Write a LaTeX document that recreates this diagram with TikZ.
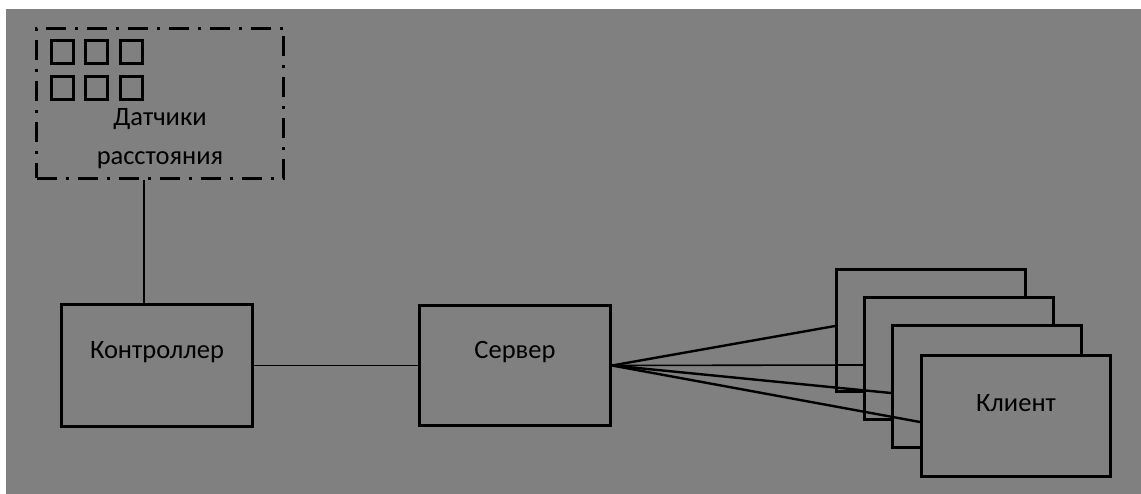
\documentclass[tikz,border=0pt]{standalone}
\usepackage{fontspec}
\setmainfont{Carlito}
\usetikzlibrary{calc}
\definecolor{panel}{RGB}{128,128,128}
\tikzset{
  box/.style={draw=black, line width=3pt, fill=panel, rectangle, inner sep=0pt,
              minimum width=#1},
  box/.default=191pt,
  cell/.style={draw=black, line width=3pt, rectangle, inner sep=0pt,
               minimum width=22pt, minimum height=23pt},
  groupframe/.style={draw=black, line width=3pt, rectangle, inner sep=0pt,
               dash pattern=on 20pt off 9pt on 3pt off 9pt,
               minimum width=247pt, minimum height=150pt},
  caption/.style={font=\fontsize{26.5}{31}\selectfont, text=black},
  wire/.style={draw=black, line width=1.6pt},
  fan/.style={draw=black, line width=2.4pt},
}
\begin{document}
\begin{tikzpicture}[x=1pt, y=-1pt]
  % page and grey panel
  \useasboundingbox (0,0) rectangle (1141,494);
  \fill[white] (0,0) rectangle (1141,494);
  \fill[panel] (6,9) rectangle (1141,494);

  % distance sensors group
  \node[groupframe] (sens) at (160,103.5) {};
  \foreach \i/\x in {1/62.5, 2/96.5, 3/131.5} {
    \node[cell] (ca\i) at (\x,52) {};
    \node[cell] (cb\i) at (\x,88.5) {};
  }
  \node[caption, align=center] (senstext) at (160,139)
    {Датчики\\[8pt]расстояния};

  % controller and server
  \node[box, minimum height=122pt,
        label={[caption, yshift=13pt]center:Контроллер}] (ctrl) at (157,365.5) {};
  \node[box, minimum height=120pt,
        label={[caption, yshift=13pt]center:Сервер}] (srv) at (515,365.5) {};

  % stacked clients
  \node[box=189pt, minimum height=122pt] (c1) at (931,330.5) {};
  \node[box=189pt, minimum height=121pt] (c2) at (959,358.5) {};
  \node[box=189pt, minimum height=121pt] (c3) at (987,386.5) {};
  \node[box=189pt, minimum height=121pt,
        label={[caption, yshift=13pt]center:Клиент}] (c4) at (1016,416) {};

  % connections
  \draw[wire] ([xshift=-13pt]ctrl.north) -- ([xshift=-13pt]ctrl.north |- sens.south);
  \draw[wire] (ctrl.east) -- (srv.west);
  \draw[fan] (srv.east) -- ($(c1.west)+(0,-4.5)$);
  \draw[wire] (srv.east) -- ($(c2.west)+(0,6.5)$);
  \draw[fan] (srv.east) -- ($(c3.west)+(0,6.5)$);
  \draw[fan] (srv.east) -- ($(c4.west)+(0,6)$);
\end{tikzpicture}
\end{document}
